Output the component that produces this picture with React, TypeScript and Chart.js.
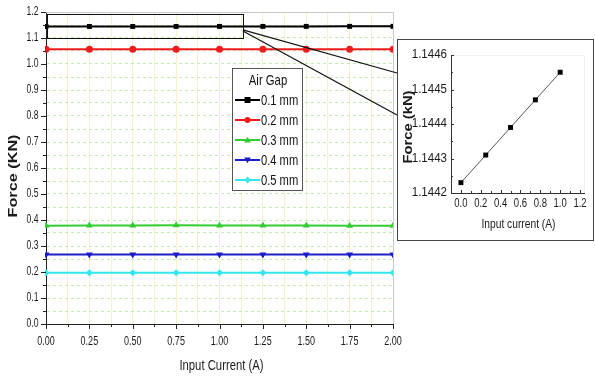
import React, { useEffect, useRef } from "react";
import { Chart, registerables } from "chart.js";

Chart.register(...registerables);

const FONT = "'Liberation Sans', Arial, sans-serif";

// ---- Main chart data ----
const currents = [0, 0.25, 0.5, 0.75, 1.0, 1.25, 1.5, 1.75, 2.0];
const gapLabels = ["0.1 mm", "0.2 mm", "0.3 mm", "0.4 mm", "0.5 mm"];
const force01 = [1.14423, 1.14431, 1.14439, 1.14447, 1.14455, 1.1446, 1.1447, 1.1448, 1.1449];
const force02 = [1.057, 1.057, 1.057, 1.057, 1.057, 1.057, 1.057, 1.057, 1.057];
const force03 = [0.378, 0.379, 0.379, 0.380, 0.379, 0.379, 0.379, 0.378, 0.378];
const force04 = [0.267, 0.267, 0.267, 0.267, 0.267, 0.267, 0.267, 0.267, 0.267];
const force05 = [0.197, 0.197, 0.197, 0.197, 0.197, 0.197, 0.197, 0.197, 0.197];
const gapForces = [force01, force02, force03, force04, force05];
const gapColors = ["#000000", "#ee1c1c", "#33cc33", "#1c1cc8", "#33e6ee"];
const gapMarkers = ["rect", "circle", "triangle", "triangle", "rectRot"];
const gapRotations = [0, 0, 0, 180, 0];
const legendTitle = "Air Gap";
const mainXTitle = "Input Current (A)";
const mainYTitle = "Force (KN)";

const xMajorTicks = [0, 0.25, 0.5, 0.75, 1.0, 1.25, 1.5, 1.75, 2.0];
const yMajorTicks = [0, 0.1, 0.2, 0.3, 0.4, 0.5, 0.6, 0.7, 0.8, 0.9, 1.0, 1.1, 1.2];

// ---- Inset data ----
const insetCurrents = [0, 0.25, 0.5, 0.75, 1.0];
const insetForce = [1.14423, 1.14431, 1.14439, 1.14447, 1.14455];
const insetXTicks = [0, 0.2, 0.4, 0.6, 0.8, 1.0, 1.2];
const insetYTicks = [1.1442, 1.1443, 1.1444, 1.1445, 1.1446];
const insetXTitle = "Input current (A)";
const insetYTitle = "Force (kN)";

const W = 595;
const H = 379;
const INSET_LEFT = 397;
const INSET_TOP = 39;
const INSET_W = 197;
const INSET_H = 202;

function withMinor(major: number[]): number[] {
  const out: number[] = [];
  for (let i = 0; i < major.length; i++) {
    out.push(major[i]);
    if (i < major.length - 1) out.push((major[i] + major[i + 1]) / 2);
  }
  return out;
}

function isMajor(v: number, major: number[]) {
  return major.some((m) => Math.abs(m - v) < 1e-9);
}

type TOpts = {
  size: number;
  bold?: boolean;
  align?: CanvasTextAlign;
  sx?: number;
  sy?: number;
  rotate?: boolean;
  color?: string;
};

function drawText(ctx: CanvasRenderingContext2D, text: string, x: number, y: number, o: TOpts) {
  ctx.save();
  ctx.translate(x, y);
  if (o.rotate) ctx.rotate(-Math.PI / 2);
  ctx.scale(o.sx ?? 1, o.sy ?? 1);
  ctx.font = `${o.bold ? "bold " : ""}${o.size}px ${FONT}`;
  ctx.textAlign = o.align ?? "center";
  ctx.textBaseline = "middle";
  ctx.fillStyle = o.color ?? "#1a1a1a";
  ctx.fillText(text, 0, 0);
  ctx.restore();
}

function drawMarker(ctx: CanvasRenderingContext2D, style: string, rot: number, x: number, y: number, r: number, color: string) {
  ctx.save();
  ctx.fillStyle = color;
  ctx.beginPath();
  if (style === "rect") {
    ctx.rect(x - r, y - r, 2 * r, 2 * r);
  } else if (style === "circle") {
    ctx.arc(x, y, r, 0, Math.PI * 2);
  } else if (style === "triangle") {
    const s = rot === 180 ? -1 : 1;
    ctx.moveTo(x, y - s * r * 1.1);
    ctx.lineTo(x + r * 1.1, y + s * r * 0.8);
    ctx.lineTo(x - r * 1.1, y + s * r * 0.8);
    ctx.closePath();
  } else {
    ctx.moveTo(x, y - r * 1.2);
    ctx.lineTo(x + r, y);
    ctx.lineTo(x, y + r * 1.2);
    ctx.lineTo(x - r, y);
    ctx.closePath();
  }
  ctx.fill();
  ctx.restore();
}

const mainDecor = {
  id: "mainDecor",
  afterDraw(chart: any) {
    const ctx: CanvasRenderingContext2D = chart.ctx;
    const xs = chart.scales.x;
    const ys = chart.scales.y;
    const { left, right, top, bottom } = chart.chartArea;
    ctx.save();
    // top & right frame
    ctx.strokeStyle = "#c8c8c8";
    ctx.lineWidth = 1;
    ctx.beginPath();
    ctx.moveTo(left, top + 0.5);
    ctx.lineTo(right + 0.5, top + 0.5);
    ctx.lineTo(right + 0.5, bottom);
    ctx.stroke();
    // tick marks
    ctx.strokeStyle = "#222";
    ctx.beginPath();
    withMinor(xMajorTicks).forEach((v) => {
      const px = Math.round(xs.getPixelForValue(v)) + 0.5;
      const len = isMajor(v, xMajorTicks) ? 5 : 3;
      ctx.moveTo(px, bottom);
      ctx.lineTo(px, bottom + len);
    });
    withMinor(yMajorTicks).forEach((v) => {
      const py = Math.round(ys.getPixelForValue(v)) + 0.5;
      const len = isMajor(v, yMajorTicks) ? 5 : 3;
      ctx.moveTo(left, py);
      ctx.lineTo(left - len, py);
    });
    ctx.stroke();
    // tick labels
    xMajorTicks.forEach((v) => {
      drawText(ctx, v.toFixed(2), xs.getPixelForValue(v), bottom + 17.5, { size: 12.5, sx: 0.72 });
    });
    yMajorTicks.forEach((v) => {
      drawText(ctx, v.toFixed(1), left - 7.5, ys.getPixelForValue(v), { size: 12, sx: 0.72, align: "right" });
    });
    // axis titles
    drawText(ctx, mainXTitle, (left + right) / 2 + 2, 366, { size: 14.5, sx: 0.78 });
    drawText(ctx, mainYTitle, 14, (top + bottom) / 2 + 8, { size: 12.5, bold: true, rotate: true, sx: 1.3 });
    // zoom rectangle
    const rx1 = xs.getPixelForValue(0.006);
    const rx2 = xs.getPixelForValue(1.135);
    const ry1 = ys.getPixelForValue(1.192);
    const ry2 = ys.getPixelForValue(1.1);
    ctx.strokeStyle = "#111";
    ctx.lineWidth = 1;
    ctx.strokeRect(Math.round(rx1) + 0.5, Math.round(ry1) + 0.5, Math.round(rx2 - rx1), Math.round(ry2 - ry1));
    // connecting lines
    const sy = ys.getPixelForValue(1.131);
    ctx.lineWidth = 1.2;
    ctx.beginPath();
    ctx.moveTo(rx2, sy);
    ctx.lineTo(INSET_LEFT, INSET_TOP + 34);
    ctx.moveTo(rx2, sy + 1);
    ctx.lineTo(INSET_LEFT, INSET_TOP + 76);
    ctx.stroke();
    // legend
    const lx = 232, ly = 68, lw = 70, lh = 122;
    ctx.fillStyle = "#ffffff";
    ctx.fillRect(lx, ly, lw, lh);
    ctx.strokeStyle = "#555";
    ctx.lineWidth = 1;
    ctx.strokeRect(lx + 0.5, ly + 0.5, lw, lh);
    drawText(ctx, legendTitle, lx + lw / 2 + 1, ly + 13, { size: 14.5, sx: 0.78, color: "#111" });
    chart.data.datasets.forEach((ds: any, i: number) => {
      const y = ly + 32 + i * 20;
      ctx.strokeStyle = ds.borderColor;
      ctx.lineWidth = 2;
      ctx.beginPath();
      ctx.moveTo(lx + 3, y);
      ctx.lineTo(lx + 28, y);
      ctx.stroke();
      drawMarker(ctx, gapMarkers[i], gapRotations[i], lx + 15.5, y, 3, ds.borderColor);
      drawText(ctx, ds.label, lx + 29, y + 0.5, { size: 14.5, sx: 0.77, align: "left", color: "#111" });
    });
    ctx.restore();
  },
};

const insetDecor = {
  id: "insetDecor",
  afterDraw(chart: any) {
    const ctx: CanvasRenderingContext2D = chart.ctx;
    const xs = chart.scales.x;
    const ys = chart.scales.y;
    const { left, right, top, bottom } = chart.chartArea;
    ctx.save();
    ctx.strokeStyle = "#eeeeee";
    ctx.lineWidth = 1;
    ctx.beginPath();
    ctx.moveTo(left, top + 0.5);
    ctx.lineTo(right + 0.5, top + 0.5);
    ctx.lineTo(right + 0.5, bottom);
    ctx.stroke();
    ctx.strokeStyle = "#333";
    ctx.beginPath();
    withMinor(insetXTicks).forEach((v) => {
      const px = Math.round(xs.getPixelForValue(v)) + 0.5;
      const len = isMajor(v, insetXTicks) ? 3 : 2;
      ctx.moveTo(px, bottom);
      ctx.lineTo(px, bottom - len);
    });
    withMinor(insetYTicks).forEach((v) => {
      const py = Math.round(ys.getPixelForValue(v)) + 0.5;
      const len = isMajor(v, insetYTicks) ? 3 : 2;
      ctx.moveTo(left, py);
      ctx.lineTo(left + len, py);
    });
    ctx.stroke();
    insetXTicks.forEach((v) => {
      drawText(ctx, v.toFixed(1), xs.getPixelForValue(v), bottom + 10.5, { size: 12.5, sx: 0.76 });
    });
    insetYTicks.forEach((v) => {
      drawText(ctx, v.toFixed(4), left - 4, ys.getPixelForValue(v), { size: 12, sx: 0.96, align: "right" });
    });
    drawText(ctx, insetXTitle, (left + right) / 2 + 1, 184.5, { size: 12.5, sx: 0.82 });
    drawText(ctx, insetYTitle, 11, 87, { size: 12, bold: true, rotate: true, sx: 1.23 });
    ctx.restore();
  },
};

export default function App() {
  const mainRef = useRef<HTMLCanvasElement | null>(null);
  const insetRef = useRef<HTMLCanvasElement | null>(null);

  useEffect(() => {
    if (!mainRef.current || !insetRef.current) return;
    const datasets = gapLabels.map((label, i) => ({
      label,
      data: currents.map((c, j) => ({ x: c, y: gapForces[i][j] })),
      borderColor: gapColors[i],
      backgroundColor: gapColors[i],
      borderWidth: 2,
      pointStyle: gapMarkers[i],
      rotation: gapRotations[i],
      pointRadius: gapMarkers[i] === "triangle" ? 4 : 3.5,
      pointBorderWidth: 0,
      tension: 0,
      clip: 1,
    }));

    const main = new Chart(mainRef.current, {
      type: "line",
      data: { datasets } as any,
      plugins: [mainDecor],
      options: {
        animation: false,
        responsive: false,
        devicePixelRatio: 1,
        layout: { padding: { left: 0, top: 12, right: W - 393, bottom: 0 } },
        plugins: { legend: { display: false }, tooltip: { enabled: false } },
        scales: {
          x: {
            type: "linear",
            min: 0,
            max: 2,
            afterBuildTicks: (s: any) => {
              s.ticks = withMinor(xMajorTicks).map((v) => ({ value: v }));
            },
            afterFit: (s: any) => {
              s.height = H - 324;
            },
            ticks: { display: false, autoSkip: false },
            grid: { color: "#f3f3cc", lineWidth: 1, drawTicks: false },
            border: { display: true, color: "#222", width: 1 },
          },
          y: {
            type: "linear",
            min: 0,
            max: 1.2,
            afterBuildTicks: (s: any) => {
              s.ticks = withMinor(yMajorTicks).map((v) => ({ value: v }));
            },
            afterFit: (s: any) => {
              s.width = 46;
            },
            ticks: { display: false, autoSkip: false },
            grid: { color: "#c6eab2", lineWidth: 1, drawTicks: false },
            border: { display: true, color: "#222", width: 1, dash: [3, 3] },
          },
        },
      } as any,
    });

    const inset = new Chart(insetRef.current, {
      type: "line",
      data: {
        datasets: [
          {
            label: "0.1 mm",
            data: insetCurrents.map((c, j) => ({ x: c, y: insetForce[j] })),
            borderColor: "#555",
            backgroundColor: "#000",
            borderWidth: 1,
            pointStyle: "rect",
            pointRadius: 3.5,
            pointBorderWidth: 0,
            tension: 0,
            clip: false,
          },
        ],
      } as any,
      plugins: [insetDecor],
      options: {
        animation: false,
        responsive: false,
        devicePixelRatio: 1,
        layout: { padding: { left: 0, top: 15, right: INSET_W - 2 - 186, bottom: 0 } },
        plugins: { legend: { display: false }, tooltip: { enabled: false } },
        scales: {
          x: {
            type: "linear",
            min: -0.1,
            max: 1.24,
            afterBuildTicks: (s: any) => {
              s.ticks = insetXTicks.map((v) => ({ value: v }));
            },
            afterFit: (s: any) => {
              s.height = INSET_H - 2 - 153;
            },
            ticks: { display: false, autoSkip: false },
            grid: { display: false, drawTicks: false },
            border: { display: true, color: "#333", width: 1 },
          },
          y: {
            type: "linear",
            min: 1.1442,
            max: 1.1446,
            afterBuildTicks: (s: any) => {
              s.ticks = insetYTicks.map((v) => ({ value: v }));
            },
            afterFit: (s: any) => {
              s.width = 53;
            },
            ticks: { display: false, autoSkip: false },
            grid: { display: false, drawTicks: false },
            border: { display: true, color: "#333", width: 1 },
          },
        },
      } as any,
    });

    return () => {
      main.destroy();
      inset.destroy();
    };
  }, []);

  return (
    <div style={{ position: "absolute", left: 0, top: 0, width: W, height: H, background: "#fff" }}>
      <canvas ref={mainRef} width={W} height={H} style={{ position: "absolute", left: 0, top: 0 }} />
      <div
        style={{
          position: "absolute",
          left: INSET_LEFT,
          top: INSET_TOP,
          width: INSET_W - 2,
          height: INSET_H - 2,
          border: "1px solid #444",
          background: "#fff",
        }}
      >
        <canvas ref={insetRef} width={INSET_W - 2} height={INSET_H - 2} style={{ display: "block" }} />
      </div>
    </div>
  );
}
